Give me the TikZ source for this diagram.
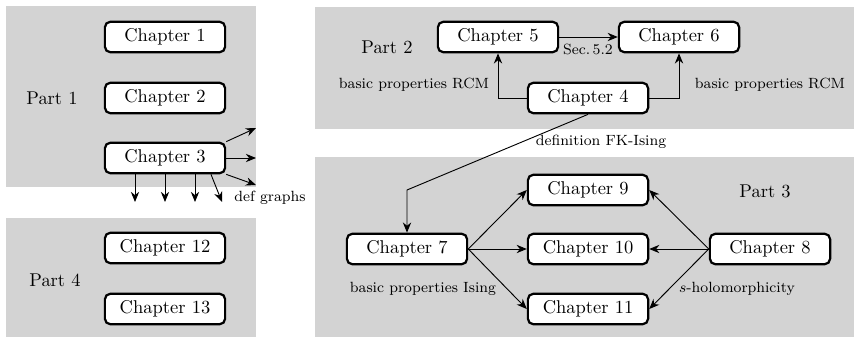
\documentclass[tikz,border=0pt]{standalone}
\usepackage{amssymb, amsthm, amsmath}
\usetikzlibrary{arrows.meta}

\definecolor{partgray}{RGB}{211,211,211}

\tikzset{
  chap/.style={draw, very thick, rounded corners=3pt, fill=white,
    minimum width=65pt, minimum height=16.5pt, inner sep=2pt},
  lbl/.style={font=\footnotesize, inner sep=1pt},
  arr/.style={-{Stealth[length=5.5pt, width=4.5pt]}, line width=0.5pt},
}

\begin{document}
\begin{tikzpicture}[x=0.019cm, y=-0.019cm]

 \useasboundingbox (0,0) rectangle (854,337);

 %%%  parts

 \fill [partgray] (6,6) rectangle (256,187);
 \fill [partgray] (6,218) rectangle (256,337);
 \fill [partgray] (315,7) rectangle (854,129);
 \fill [partgray] (315,157) rectangle (854,337);

 \node (p1) at (52,98) {Part 1};
 \node (p2) at (387,47) {Part 2};
 \node (p3) at (765,191) {Part 3};
 \node (p4) at (55,280) {Part 4};

 %%%  nodes

 % part 1
 \node [chap] (c1) at (165,37) {Chapter 1};
 \node [chap] (c2) at (165,98) {Chapter 2};
 \node [chap] (c3) at (165,158) {Chapter 3};

 % part 2
 \node [chap] (c5) at (498,37) {Chapter 5};
 \node [chap] (c6) at (679,37) {Chapter 6};
 \node [chap] (c4) at (588,98) {Chapter 4};

 % part 3
 \node [chap] (c7) at (407,249) {Chapter 7};
 \node [chap] (c9) at (588,190) {Chapter 9};
 \node [chap] (c10) at (588,249) {Chapter 10};
 \node [chap] (c11) at (588,309) {Chapter 11};
 \node [chap] (c8) at (770,249) {Chapter 8};

 % part 4
 \node [chap] (c12) at (165,248) {Chapter 12};
 \node [chap] (c13) at (165,309) {Chapter 13};

 %%%  labels

 \node [lbl] (l1) at (414,85) {basic properties RCM};
 \node [lbl] (l2) at (770,85) {basic properties RCM};
 \node [lbl] (l3) at (588,49) {Sec.\,5.2};
 \node [lbl] (l4) at (601,142) {definition FK-Ising};
 \node [lbl] (l5) at (423,289) {basic properties Ising};
 \node [lbl] (l6) at (737,289) {$s$-holomorphicity};
 \node [lbl] (l7) at (270,198) {def graphs};

 %%%  edges

 % chapter 3 goes everywhere
 \coordinate (r1) at (256,128);
 \coordinate (r2) at (256,158);
 \coordinate (r3) at (256,185);
 \draw [arr] (c3.north east) to (r1);
 \draw [arr] (c3.east) to (r2);
 \draw [arr] (c3.south east) to (r3);
 \foreach \i/\dx in {1/-30, 2/0, 3/30} {
   \coordinate (d\i) at (165+\dx,202);
   \draw [arr] ([xshift=\dx*0.019cm]c3.south) to (d\i);
 }
 \coordinate (d4) at (222,202);
 \draw [arr] ([xshift=46*0.019cm]c3.south) to (d4);

 % part 2
 \draw [arr] (c5.east) to (c6.west);
 \draw [arr] (c4.west) -| (c5.south);
 \draw [arr] (c4.east) -| (c6.south);
 \draw [arr] (c4.south) -- (c7 |- c9) -- (c7.north);

 % part 3
 \draw [arr] (c7.east) to (c9.west);
 \draw [arr] (c7.east) to (c10.west);
 \draw [arr] (c7.east) to (c11.west);
 \draw [arr] (c8.west) to (c9.east);
 \draw [arr] (c8.west) to (c10.east);
 \draw [arr] (c8.west) to (c11.east);

\end{tikzpicture}
\end{document}
